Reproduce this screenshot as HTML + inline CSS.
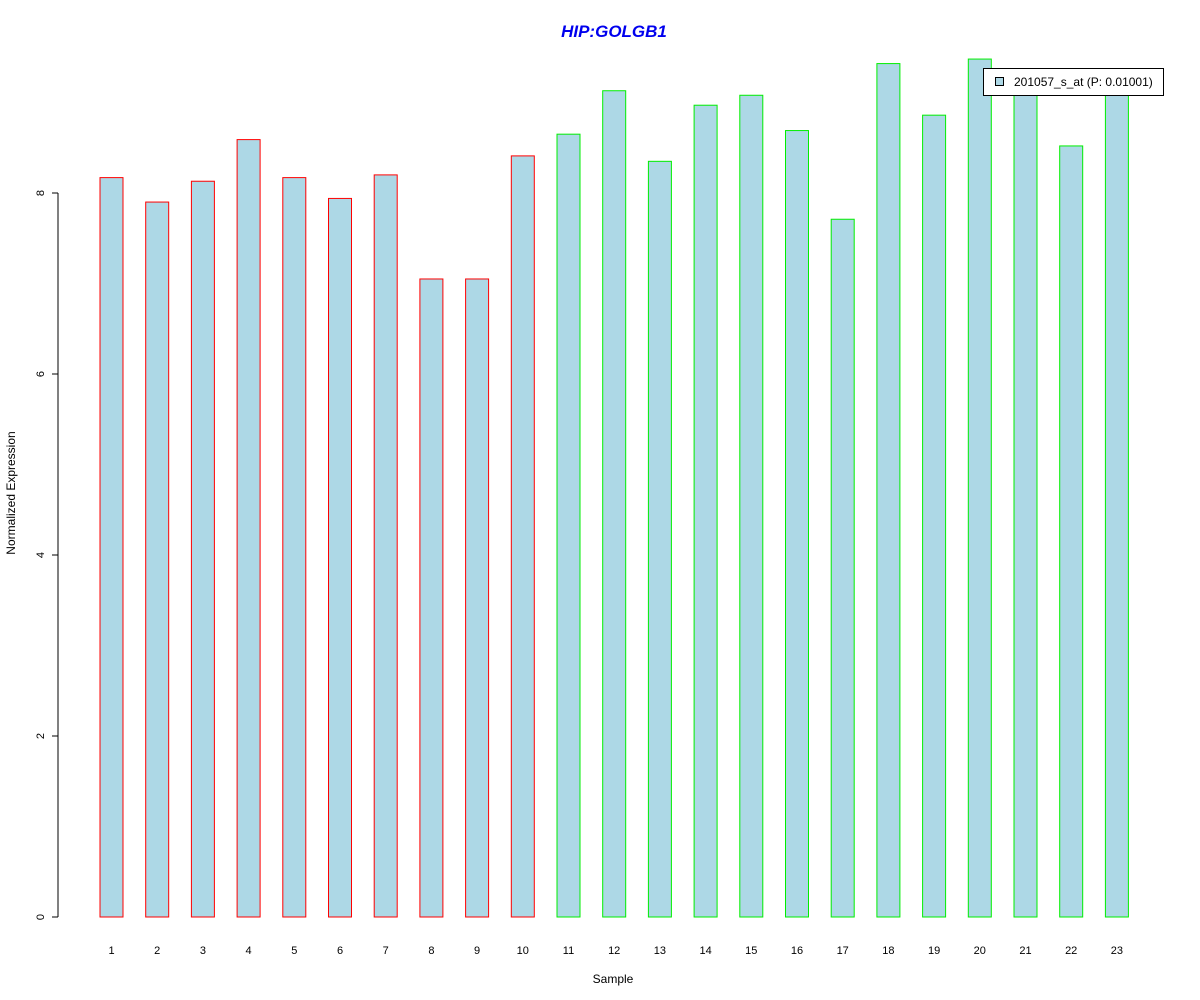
<!DOCTYPE html>
<html><head><meta charset="utf-8"><style>body{margin:0;background:#fff}svg{display:block;font-family:"Liberation Sans",Arial,sans-serif}</style></head>
<body>
<svg width="1200" height="1000" id="c">
<text x="614" y="37" text-anchor="middle" font-size="17" font-weight="bold" font-style="italic" fill="#0000ee">HIP:GOLGB1</text>
<text x="613" y="983" text-anchor="middle" font-size="12">Sample</text>
<text transform="translate(15,493) rotate(-90)" text-anchor="middle" font-size="12">Normalized Expression</text>
<line x1="58" y1="193" x2="58" y2="917" stroke="#000"/>
<g id="yt"></g><g id="bars"></g><g id="xl"></g>
<g>
<rect x="983.5" y="68.5" width="180" height="27" fill="#fff" stroke="#000"/>
<rect x="995.5" y="77.5" width="8" height="8" fill="#add8e6" stroke="#000"/>
<text x="1014" y="86" font-size="12">201057_s_at (P: 0.01001)</text>
</g>
</svg>
<script>
const samples=["1","2","3","4","5","6","7","8","9","10","11","12","13","14","15","16","17","18","19","20","21","22","23"];
const values=[8.17,7.90,8.13,8.59,8.17,7.94,8.20,7.05,7.05,8.41,8.65,9.13,8.35,8.97,9.08,8.69,7.71,9.43,8.86,9.48,9.25,8.52,9.25];
const groups=["a","a","a","a","a","a","a","a","a","a","b","b","b","b","b","b","b","b","b","b","b","b","b"];
const yTicks=[0,2,4,6,8];
const NS="http://www.w3.org/2000/svg";
const y=v=>917-v*90.5, x=i=>111.5+i*45.7;
const yt=document.getElementById('yt'),bars=document.getElementById('bars'),xl=document.getElementById('xl');
yTicks.forEach(t=>{
 const l=document.createElementNS(NS,'line');
 l.setAttribute('x1',52);l.setAttribute('x2',58);l.setAttribute('y1',y(t));l.setAttribute('y2',y(t));l.setAttribute('stroke','#000');
 
 
 yt.appendChild(l);
 const tx=document.createElementNS(NS,'text');
 tx.setAttribute('transform',`translate(44,${y(t)}) rotate(-90)`);tx.setAttribute('text-anchor','middle');tx.setAttribute('font-size','11');tx.textContent=t;
 
 
 yt.appendChild(tx);
});
values.forEach((v,i)=>{
 const r=document.createElementNS(NS,'rect');
 r.setAttribute('x',x(i)-11.5);r.setAttribute('width',23);r.setAttribute('y',y(v));r.setAttribute('height',917-y(v));
 r.setAttribute('fill','#add8e6');r.setAttribute('stroke',groups[i]==='a'?'#ff0000':'#00ee00');
 
 
 bars.appendChild(r);
 const tx=document.createElementNS(NS,'text');
 tx.setAttribute('x',x(i));tx.setAttribute('y',954);tx.setAttribute('text-anchor','middle');tx.setAttribute('font-size','11');tx.textContent=samples[i];
 
 
 xl.appendChild(tx);
});
</script>
</body></html>
